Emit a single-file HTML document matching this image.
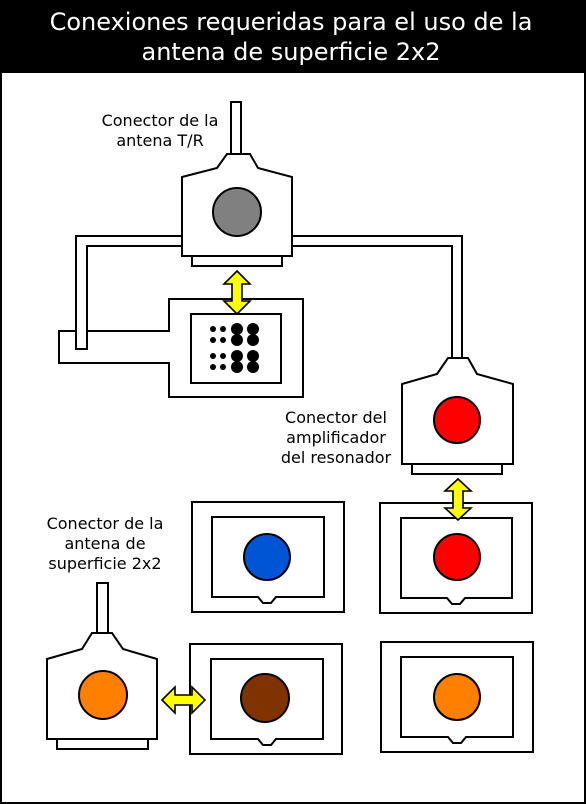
<!DOCTYPE html>
<html><head><meta charset="utf-8"><style>
html,body{margin:0;padding:0;background:#fff}
svg{display:block}
text{font-family:"DejaVu Sans","Liberation Sans",sans-serif;font-size:16px;fill:#000}
text.t{font-size:24px;fill:#fff}
.s{stroke:#000;stroke-width:2px;fill:#fff}
.s circle,.s path,.s rect,.s line{stroke:#000;stroke-width:2px}
.y path{fill:#ffff00;stroke:#000;stroke-width:1.6px}
</style></head><body>
<svg width="586" height="804" viewBox="0 0 586 804" xmlns="http://www.w3.org/2000/svg">
<rect x="0" y="0" width="586" height="804" fill="#fff"/>
<rect x="1" y="72" width="584" height="731" fill="#fff" style="stroke:#000;stroke-width:2px"/>
<rect x="0" y="0" width="586" height="72" fill="#000"/>
<text class="t" x="291" y="30" text-anchor="middle">Conexiones requeridas para el uso de la</text>
<text class="t" x="291" y="60" text-anchor="middle">antena de superficie 2x2</text>

<g class="s">
<path d="M59,331 L169,331 L169,299 L303,299 L303,397 L169,397 L169,363 L59,363 Z" fill="#fff"/>
<rect x="191" y="314" width="90" height="69" fill="#fff"/>
<path d="M76,349 L76,236 L462,236 L462,358 L452,358 L452,246 L87,246 L87,349 Z" fill="#fff"/>
<rect x="231" y="102" width="10" height="52" fill="#fff"/>
<path d="M182,177 L217,168 L227,154 L250,154 L258,168 L292,177 L292,256 L182,256 Z" fill="#fff"/>
<rect x="192" y="256" width="90" height="10" fill="#fff"/>
<path d="M402,384 L437,374 L448,358 L468,358 L477,374 L513,384 L513,464 L402,464 Z" fill="#fff"/>
<rect x="412" y="464" width="90" height="10" fill="#fff"/>
<rect x="97" y="583" width="11" height="50" fill="#fff"/>
<path d="M47,659 L82,649 L92,633 L112,633 L123,649 L157,659 L157,739 L47,739 Z" fill="#fff"/>
<rect x="57" y="739" width="91" height="10" fill="#fff"/>
<rect x="192" y="502" width="152" height="110" fill="#fff"/>
<path d="M212,517 L324,517 L324,597 L276,597 L271,603 L263,603 L258,597 L212,597 Z" fill="#fff"/>
<rect x="380" y="503" width="152" height="110" fill="#fff"/>
<path d="M401,518 L512,518 L512,598 L465,598 L460,604 L452,604 L447,598 L401,598 Z" fill="#fff"/>
<rect x="190" y="644" width="152" height="110" fill="#fff"/>
<path d="M211,659 L323,659 L323,739 L276,739 L271,745 L263,745 L258,739 L211,739 Z" fill="#fff"/>
<rect x="381" y="642" width="152" height="110" fill="#fff"/>
<path d="M401,657 L513,657 L513,737 L466,737 L461,743 L453,743 L448,737 L401,737 Z" fill="#fff"/>
<circle cx="237" cy="212" r="24" fill="#808080"/>
<circle cx="457" cy="420" r="23" fill="#ff0000"/>
<circle cx="267" cy="557" r="23" fill="#0055d4"/>
<circle cx="457" cy="557" r="23" fill="#ff0000"/>
<circle cx="103" cy="695" r="24" fill="#ff7f00"/>
<circle cx="265" cy="698" r="24" fill="#803300"/>
<circle cx="457" cy="697" r="23" fill="#ff7f00"/>
</g>
<g class="y">
<path d="M237,271 L250,284 L242,284 L242,301 L250,301 L237,314 L224,301 L232,301 L232,284 L224,284 Z"/>
<path d="M458,479 L471,491 L463,491 L463,508 L471,508 L458,520 L445,508 L453,508 L453,491 L445,491 Z"/>
<path d="M162,700 L175,687 L175,695 L192,695 L192,687 L205,700 L192,713 L192,705 L175,705 L175,713 Z"/>
</g>
<g fill="#000">
<circle cx="213" cy="329" r="3"/><circle cx="223" cy="329" r="3"/><circle cx="237" cy="329" r="6"/><circle cx="253" cy="329" r="6"/>
<circle cx="213" cy="340" r="3"/><circle cx="223" cy="340" r="3"/><circle cx="237" cy="340" r="6"/><circle cx="253" cy="340" r="6"/>
<circle cx="213" cy="356" r="3"/><circle cx="223" cy="356" r="3"/><circle cx="237" cy="356" r="6"/><circle cx="253" cy="356" r="6"/>
<circle cx="213" cy="367" r="3"/><circle cx="223" cy="367" r="3"/><circle cx="237" cy="367" r="6"/><circle cx="253" cy="367" r="6"/>
</g>
<text x="160" y="126" text-anchor="middle">Conector de la</text>
<text x="160" y="146" text-anchor="middle">antena T/R</text>
<text x="336" y="423" text-anchor="middle">Conector del</text>
<text x="336" y="443" text-anchor="middle">amplificador</text>
<text x="336" y="463" text-anchor="middle">del resonador</text>
<text x="105" y="529" text-anchor="middle">Conector de la</text>
<text x="105" y="549" text-anchor="middle">antena de</text>
<text x="105" y="569" text-anchor="middle">superficie 2x2</text>
</svg>
</body></html>
